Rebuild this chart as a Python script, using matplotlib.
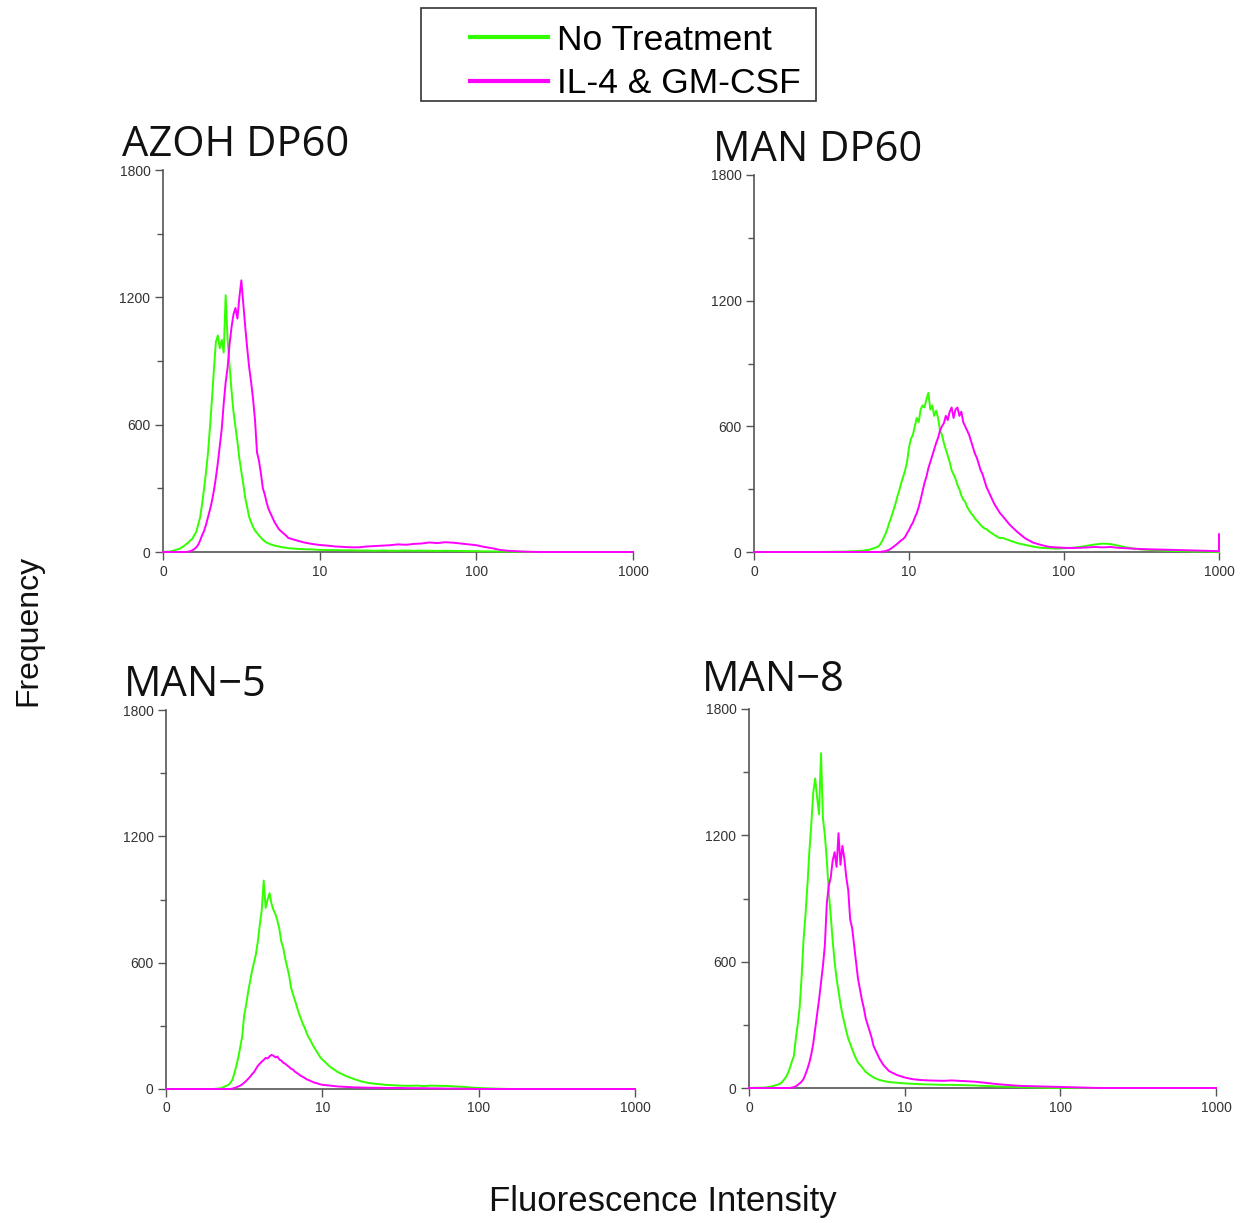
import matplotlib.pyplot as plt
from matplotlib.lines import Line2D
from matplotlib.patches import Rectangle
import numpy as np

# log10 of fluorescence channel for each panel: coarse start, fine peak region, coarse tail
azoh_dec = np.r_[[0, 0.05], 0.1 + 0.0125 * np.arange(56), 0.8 + 0.05 * np.arange(45)]
man60_dec = np.r_[[0, 0.2, 0.4, 0.6, 0.7, 0.75], 0.8 + 0.0125 * np.arange(64),
                  1.6 + 0.05 * np.arange(29), [3.0]]
man5_dec = np.r_[[0, 0.2, 0.3, 0.35], 0.4 + 0.0125 * np.arange(48), 1.0 + 0.05 * np.arange(41)]
man8_dec = np.r_[[0, 0.1, 0.15], 0.2 + 0.0125 * np.arange(56), 0.9 + 0.05 * np.arange(43)]

# AZOH DP60
azoh_nt = [0, 3] + [
    14, 18, 24, 30, 38, 45, 55, 62,
    80, 95, 130, 165, 230, 300, 380, 470,
    590, 720, 860, 990, 1020, 960, 1000, 940,
    1210, 1000, 880, 760, 660, 590, 520, 440,
    380, 320, 255, 210, 165, 140, 118, 100,
    90, 78, 68, 58, 50, 44, 40, 36,
    33, 30, 28, 26, 24, 22, 21, 20] + [
    18, 15, 13, 12, 10, 9, 9, 8, 8,
    7, 7, 6, 7, 6, 6, 7, 6, 6,
    6, 5, 6, 5, 5, 4, 4, 3, 3,
    2, 2, 1, 1, 0, 0, 0, 0, 0,
    0, 0, 0, 0, 0, 0, 0, 0, 0]
azoh_il = [0, 0] + [
    0, 0, 0, 0, 0, 2, 4, 8,
    14, 22, 35, 55, 80, 100, 130, 165,
    200, 240, 290, 350, 420, 500, 580, 700,
    800, 870, 980, 1060, 1120, 1150, 1100, 1200,
    1280, 1170, 1060, 960, 870, 800, 720, 620,
    470, 430, 370, 300, 270, 230, 200, 180,
    160, 140, 125, 110, 100, 92, 84, 76] + [
    66, 55, 45, 38, 33, 30, 26, 24, 22,
    22, 26, 28, 30, 32, 36, 34, 38, 40,
    45, 42, 46, 44, 40, 36, 32, 24, 18,
    10, 6, 4, 2, 1, 0, 0, 0, 0,
    0, 0, 0, 0, 0, 0, 0, 0, 0]

# MAN DP60 (last channel holds the off-scale events)
man60_nt = [0, 0, 0, 2, 6, 12] + [
    25, 35, 50, 70, 90, 115, 145, 170,
    200, 230, 265, 295, 330, 360, 390, 430,
    500, 540, 560, 600, 640, 620, 680, 700,
    690, 730, 760, 680, 700, 650, 675, 640,
    580, 560, 520, 490, 460, 430, 390, 370,
    350, 320, 300, 270, 250, 240, 215, 200,
    185, 175, 160, 150, 140, 128, 120, 112,
    110, 100, 95, 88, 82, 76, 70, 66] + [
    68, 55, 42, 34, 26, 20, 18, 16, 18, 20,
    24, 30, 36, 40, 38, 30, 22, 16, 12, 10,
    8, 6, 5, 4, 3, 2, 2, 1, 0, 0]
man60_il = [0, 0, 0, 0, 0, 0] + [
    0, 0, 2, 3, 5, 8, 12, 18,
    25, 32, 40, 48, 56, 62, 72, 90,
    105, 125, 140, 165, 185, 215, 250, 290,
    330, 360, 400, 430, 460, 490, 520, 545,
    580, 600, 615, 650, 630, 670, 690, 640,
    680, 690, 650, 670, 620, 600, 580, 560,
    530, 500, 470, 450, 420, 390, 370, 340,
    310, 290, 270, 250, 230, 215, 200, 185] + [
    175, 130, 95, 65, 45, 34, 25, 22, 20, 19,
    20, 22, 24, 22, 24, 20, 18, 16, 14, 13,
    12, 11, 10, 9, 8, 7, 6, 5, 4, 85]

# MAN-5
man5_nt = [0, 0, 0, 3] + [
    20, 30, 45, 75, 110, 150, 200, 250,
    350, 400, 460, 510, 560, 600, 640, 700,
    780, 850, 990, 860, 900, 930, 880, 850,
    830, 800, 760, 700, 670, 620, 580, 540,
    480, 450, 420, 390, 360, 335, 310, 290,
    265, 245, 230, 210, 195, 180, 165, 150] + [
    140, 105, 80, 62, 48, 36, 28, 24, 20, 18,
    16, 15, 16, 14, 16, 15, 14, 12, 10, 7,
    5, 3, 2, 1, 0, 0, 0, 0, 0, 0,
    0, 0, 0, 0, 0, 0, 0, 0, 0, 0, 0]
man5_il = [0, 0, 0, 0] + [
    0, 0, 2, 5, 8, 12, 16, 22,
    30, 38, 48, 58, 70, 80, 95, 110,
    120, 130, 138, 148, 145, 155, 162, 158,
    150, 154, 140, 135, 125, 120, 112, 105,
    96, 92, 82, 76, 70, 62, 58, 52,
    46, 42, 38, 34, 30, 28, 25, 22] + [
    20, 16, 12, 10, 8, 7, 6, 6, 5, 5,
    5, 4, 4, 4, 3, 3, 2, 2, 1, 1,
    0, 0, 0, 0, 0, 0, 0, 0, 0, 0,
    0, 0, 0, 0, 0, 0, 0, 0, 0, 0, 0]

# MAN-8
man8_nt = [0, 2, 8] + [
    20, 28, 40, 52, 70, 95, 125, 150,
    230, 300, 380, 520, 700, 820, 960, 1120,
    1250, 1400, 1470, 1380, 1300, 1590, 1280, 1200,
    1080, 930, 820, 700, 600, 520, 460, 400,
    350, 310, 270, 235, 210, 185, 160, 140,
    122, 110, 100, 88, 76, 70, 62, 56,
    50, 46, 42, 38, 36, 34, 32, 30] + [
    28, 25, 22, 20, 18, 17, 16, 15, 15, 14,
    13, 12, 10, 9, 7, 6, 5, 4, 3, 2,
    1, 0, 0, 0, 0, 0, 0, 0, 0, 0,
    0, 0, 0, 0, 0, 0, 0, 0, 0, 0,
    0, 0, 0]
man8_il = [0, 0, 0] + [
    0, 0, 0, 0, 0, 0, 2, 4,
    8, 14, 22, 30, 42, 65, 90, 120,
    160, 210, 280, 350, 420, 500, 580, 680,
    880, 960, 1000, 1080, 1120, 1050, 1210, 1060,
    1150, 1090, 1000, 940, 800, 760, 680, 600,
    520, 470, 420, 380, 330, 300, 270, 240,
    200, 180, 160, 140, 125, 110, 100, 90] + [
    80, 62, 50, 42, 38, 36, 35, 34, 36, 34,
    32, 30, 26, 22, 18, 15, 12, 10, 9, 8,
    7, 6, 5, 4, 3, 2, 1, 0, 0, 0,
    0, 0, 0, 0, 0, 0, 0, 0, 0, 0,
    0, 0, 0]

titles = ['AZOH DP60', 'MAN DP60', 'MAN\u22125', 'MAN\u22128']
grids = [azoh_dec, man60_dec, man5_dec, man8_dec]
no_treatment = [azoh_nt, man60_nt, man5_nt, man8_nt]
il4_gmcsf = [azoh_il, man60_il, man5_il, man8_il]

W, H = 1252, 1223
green = '#33ff00'
magenta = '#ff00ff'

plt.rcParams['font.family'] = ['Liberation Sans', 'DejaVu Sans']

fig = plt.figure(figsize=(W / 100, H / 100), dpi=100)

# axes boxes in pixels: left, right, top(1800), bottom(0)
boxes = [(163, 633, 170, 552), (754, 1219, 175, 552),
         (166, 635, 710, 1089), (749, 1216, 709, 1088)]
# title anchor (left, baseline) in pixels
title_pos = [(122, 156), (713, 161), (124, 696), (702, 691)]

for k in range(4):
    l, r, t, b = boxes[k]
    ax = fig.add_axes([l / W, 1 - b / H, (r - l) / W, (b - t) / H])
    x = 10 ** grids[k]
    ax.plot(x, no_treatment[k], color=green, lw=1.4, clip_on=False, zorder=3)
    ax.plot(x, il4_gmcsf[k], color=magenta, lw=1.4, clip_on=False, zorder=4)
    ax.set_xscale('log')
    ax.set_xlim(1, 1000)
    ax.set_ylim(0, 1800)
    ax.set_xticks([1, 10, 100, 1000])
    ax.set_xticklabels(['0', '10', '100', '1000'])
    ax.xaxis.set_minor_locator(plt.NullLocator())
    ax.set_yticks([0, 600, 1200, 1800])
    ax.set_yticks([300, 900, 1500], minor=True)
    for side in ['top', 'right']:
        ax.spines[side].set_visible(False)
    for side in ['left', 'bottom']:
        ax.spines[side].set_color('#555555')
        ax.spines[side].set_linewidth(1.2)
    ax.tick_params(which='major', length=6, width=1, color='#555555',
                   labelsize=10, labelcolor='#333333', pad=3)
    ax.tick_params(which='minor', length=4, width=1, color='#555555')
    ax.patch.set_alpha(0)
    tx, ty = title_pos[k]
    fig.text(tx / W, 1 - ty / H, titles[k], fontsize=30, va='baseline',
             family=['Open Sans', 'DejaVu Sans'], color='#111111')

fig.text(28 / W, 1 - 630 / H, 'Frequency', rotation=90, fontsize=23,
         ha='center', va='center', color='#111111')
fig.text(663 / W, 1 - 1202 / H, 'Fluorescence Intensity', fontsize=25,
         ha='center', va='center', color='#111111')

handles = [Line2D([], [], color=green, lw=3), Line2D([], [], color=magenta, lw=3)]
fig.legend(handles, ['No Treatment', 'IL-4 & GM-CSF'], loc='center',
           bbox_to_anchor=(635 / W, 1 - 62 / H), frameon=False, fontsize=25.5,
           handlelength=2.2, handletextpad=0.25, labelspacing=0.3)
fig.add_artist(Rectangle((421 / W, 1 - 101 / H), 395 / W, 93 / H,
                         transform=fig.transFigure, fill=False,
                         edgecolor='#333333', lw=1.2))

fig.savefig('out.png', dpi=100)
